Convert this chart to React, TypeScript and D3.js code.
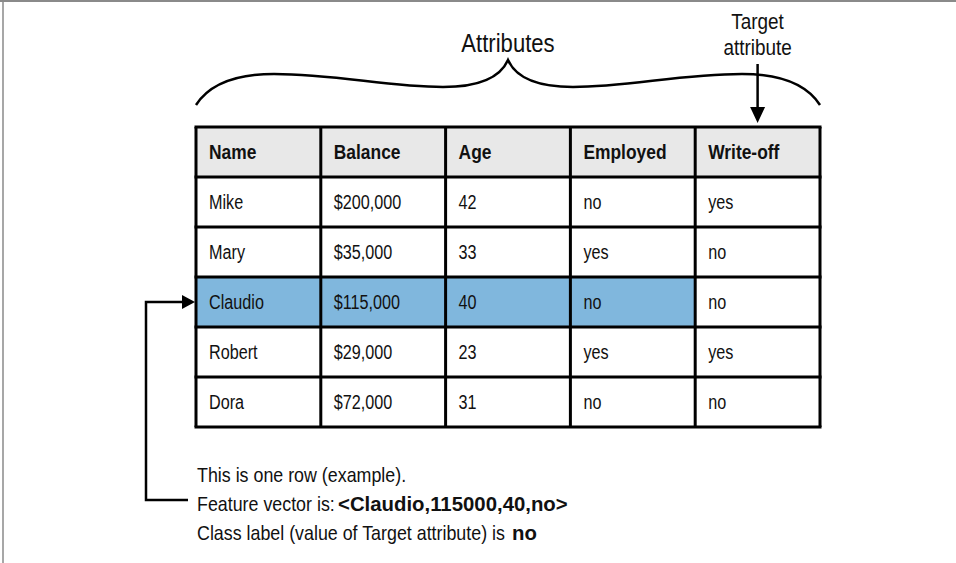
import React from "react";
import * as d3 from "d3";

// table content
const headers = ["Name", "Balance", "Age", "Employed", "Write-off"];
const names = ["Mike", "Mary", "Claudio", "Robert", "Dora"];
const balances = ["$200,000", "$35,000", "$115,000", "$29,000", "$72,000"];
const ages = ["42", "33", "40", "23", "31"];
const employed = ["no", "yes", "no", "yes", "no"];
const writeOffs = ["yes", "no", "no", "yes", "no"];
const highlightRow = "Claudio";

const W = 956;
const H = 563;
const FONT = "'Liberation Sans', Arial, sans-serif";

// text drawn with a horizontal squeeze, to look like a condensed face
const T = ({ x, y, size, bold, anchor, sq = 0.85, children }: any) => (
  <g transform={`translate(${x},${y}) scale(${sq},1)`}>
    <text x={0} y={0} fontSize={size} fontWeight={bold ? "bold" : "normal"} textAnchor={anchor || "start"} fill="#111">
      {children}
    </text>
  </g>
);

const App = () => {
  const x = d3.scaleBand<string>().domain(headers).range([196, 820]).padding(0);
  const y = d3.scaleBand<string>().domain(["__head", ...names]).range([127, 427]).padding(0);

  const rows = names.map((n, i) => [n, balances[i], ages[i], employed[i], writeOffs[i]]);

  const L = x.range()[0];
  const R = x.range()[1];
  const mid = (L + R) / 2;
  const targetX = (x("Write-off") as number) + x.bandwidth() / 2;

  // curly brace over the attribute columns
  const brace = d3.path();
  brace.moveTo(L, 105);
  brace.bezierCurveTo(L + 15, 82, L + 45, 74, L + 78, 74);
  brace.bezierCurveTo(L + 140, 74, mid - 120, 87, mid - 65, 87);
  brace.bezierCurveTo(mid - 30, 87, mid - 8, 78, mid, 60);
  brace.bezierCurveTo(mid + 8, 78, mid + 30, 87, mid + 65, 87);
  brace.bezierCurveTo(mid + 120, 87, R - 140, 74, R - 78, 74);
  brace.bezierCurveTo(R - 45, 74, R - 15, 82, R, 105);

  const claudioY = (y(highlightRow) as number) + y.bandwidth() / 2;
  const connX = 146;
  const bottomY = 500;

  return (
    <svg
      width={W}
      height={H}
      style={{ position: "absolute", left: 0, top: 0, background: "#fff" }}
      fontFamily={FONT}
    >
      {/* frame */}
      <line x1={0} x2={W} y1={1} y2={1} stroke="#8a8a8a" strokeWidth={2} />
      <line x1={3} x2={3} y1={0} y2={H} stroke="#8a8a8a" strokeWidth={1.5} />

      {/* labels above */}
      <T x={mid} y={52} size={26} sq={0.85} anchor="middle">Attributes</T>
      <T x={targetX} y={29} size={22} sq={0.86} anchor="middle">Target</T>
      <T x={targetX} y={55} size={22} sq={0.86} anchor="middle">attribute</T>

      <path d={brace.toString()} fill="none" stroke="#000" strokeWidth={2.5} />

      {/* target arrow */}
      <line x1={targetX} x2={targetX} y1={64} y2={110} stroke="#000" strokeWidth={2.5} />
      <path d={`M${targetX - 7.5},107 L${targetX + 7.5},107 L${targetX},123 Z`} fill="#000" />

      {/* header row */}
      {headers.map((h) => (
        <rect key={"hb" + h} x={x(h)} y={y("__head")} width={x.bandwidth()} height={y.bandwidth()} fill="#e8e8e8" />
      ))}
      {/* highlighted row */}
      {headers.slice(0, 4).map((h) => (
        <rect key={"hl" + h} x={x(h)} y={y(highlightRow)} width={x.bandwidth()} height={y.bandwidth()} fill="#80b7dd" />
      ))}

      {headers.map((h) => (
        <T key={"ht" + h} x={(x(h) as number) + 13} y={(y("__head") as number) + y.bandwidth() / 2 + 7} size={20} sq={0.87} bold>
          {h}
        </T>
      ))}

      {rows.map((r, i) =>
        r.map((v, j) => (
          <T key={`c${i}-${j}`} x={(x(headers[j]) as number) + 13} y={(y(names[i]) as number) + y.bandwidth() / 2 + 7} size={20} sq={0.81}>
            {v}
          </T>
        ))
      )}

      {/* grid lines */}
      {[...headers.map((h) => x(h) as number), R].map((xx, i) => (
        <line key={"v" + i} x1={xx} x2={xx} y1={y.range()[0]} y2={y.range()[1]} stroke="#000" strokeWidth={3} />
      ))}
      {[...y.domain().map((d) => y(d) as number), y.range()[1]].map((yy, i) => (
        <line key={"h" + i} x1={L - 1.5} x2={R + 1.5} y1={yy} y2={yy} stroke="#000" strokeWidth={3} />
      ))}

      {/* connector to highlighted row */}
      <path
        d={`M${connX + 42},${bottomY} L${connX},${bottomY} L${connX},${claudioY} L${L - 12},${claudioY}`}
        fill="none"
        stroke="#000"
        strokeWidth={2.5}
      />
      <path d={`M${L - 14},${claudioY - 7} L${L - 1},${claudioY} L${L - 14},${claudioY + 7} Z`} fill="#000" />

      {/* explanation */}
      <T x={197} y={482} size={21}>This is one row (example).</T>
      <T x={197} y={511} size={21}>Feature vector is:</T>
      <T x={338} y={511} size={21} sq={0.97} bold>&lt;Claudio,115000,40,no&gt;</T>
      <T x={197} y={540} size={21}>Class label (value of Target attribute) is</T>
      <T x={512} y={540} size={21} sq={0.97} bold>no</T>
    </svg>
  );
};

export default App;
